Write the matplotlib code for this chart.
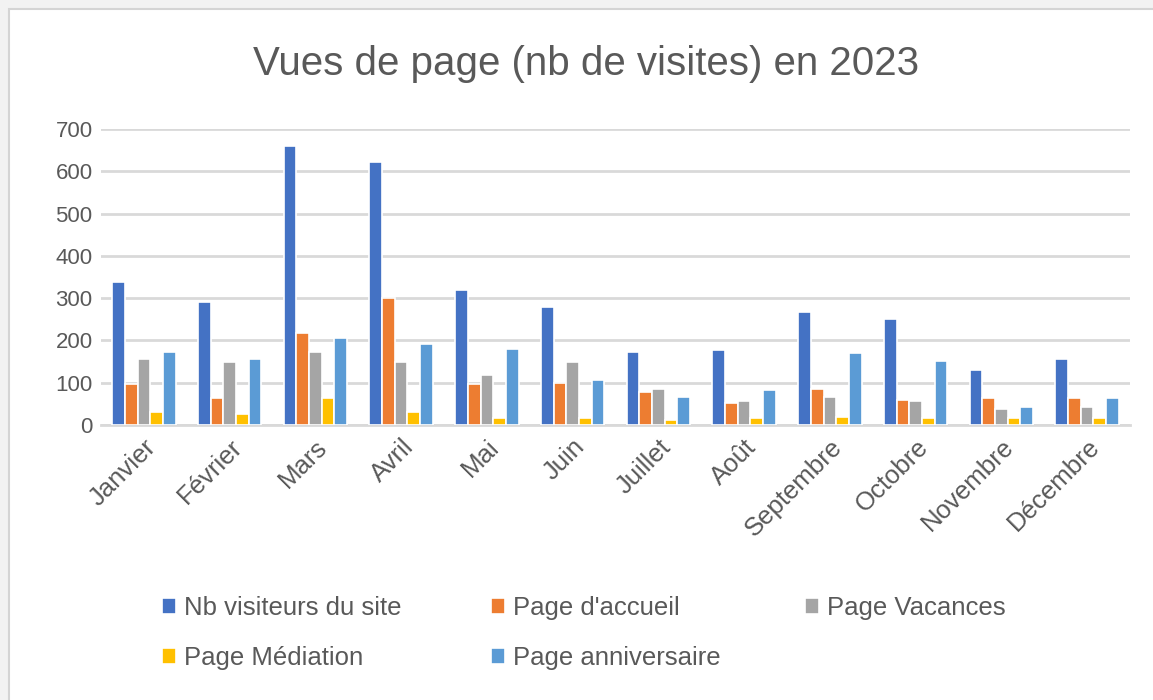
import matplotlib.pyplot as plt
from matplotlib.patches import Rectangle
import numpy as np

plt.rcParams['font.family'] = ['Liberation Sans', 'DejaVu Sans']

mois = ['Janvier', 'Février', 'Mars', 'Avril', 'Mai', 'Juin', 'Juillet',
        'Août', 'Septembre', 'Octobre', 'Novembre', 'Décembre']
visiteurs = [338, 290, 660, 623, 320, 279, 173, 177, 268, 250, 129, 155]
accueil = [97, 64, 218, 301, 97, 100, 78, 53, 86, 60, 64, 64]
vacances = [155, 148, 173, 148, 118, 148, 86, 57, 67, 57, 39, 42]
mediation = [31, 27, 64, 31, 17, 17, 13, 17, 20, 17, 17, 17]
anniversaire = [173, 155, 206, 192, 180, 107, 67, 82, 170, 152, 42, 64]

series = [
    ('Nb visiteurs du site', visiteurs, '#4472C4'),
    ("Page d'accueil", accueil, '#ED7D31'),
    ('Page Vacances', vacances, '#A5A5A5'),
    ('Page Médiation', mediation, '#FFC000'),
    ('Page anniversaire', anniversaire, '#5B9BD5'),
]

gris = '#595959'
fig = plt.figure(figsize=(11.53, 7.0), dpi=100, facecolor='#f2f2f2')
# cadre blanc du graphique
fig.patches.append(Rectangle((9 / 1153, -0.01), 1.02, 1 - 9 / 700 + 0.01,
                             transform=fig.transFigure, facecolor='white',
                             edgecolor='#d4d4d4', linewidth=1.5, zorder=-1))

ax = fig.add_axes([101 / 1153, 1 - 425 / 700, (1130 - 101) / 1153, (425 - 129) / 700])
ax.set_facecolor('white')

x = np.arange(len(mois))
w = 0.148
handles = []
for i, (nom, vals, col) in enumerate(series):
    b = ax.bar(x + (i - 2) * w, vals, width=w, color=col, edgecolor='white',
               linewidth=1.2, label=nom, zorder=3)
    handles.append(b)

ax.set_xlim(-0.5, len(mois) - 0.5)
ax.set_ylim(0, 700)
ax.set_yticks(range(0, 701, 100))
ax.yaxis.grid(True, color='#d9d9d9', linewidth=2, zorder=0)
ax.tick_params(axis='both', length=0, labelcolor=gris)
ax.tick_params(axis='y', pad=6, labelsize=16)
ax.set_xticks(x)
ax.set_xticklabels(mois, rotation=45, ha='right', rotation_mode='anchor')
ax.tick_params(axis='x', pad=7, labelsize=18.5)
for s in ['top', 'right', 'left']:
    ax.spines[s].set_visible(False)
ax.spines['bottom'].set_color('#d9d9d9')
ax.spines['bottom'].set_linewidth(2)

fig.text(0.508, 1 - 64 / 700, 'Vues de page (nb de visites) en 2023',
         ha='center', va='center', fontsize=29, color=gris)

# légende en trois colonnes comme dans Excel
colonnes = [(0, 3), (1, 4), (2,)]
xs = [152 / 1153, 481 / 1153, 795 / 1153]
for xc, idx in zip(xs, colonnes):
    leg = fig.legend([handles[k] for k in idx], [series[k][0] for k in idx],
                     loc='upper left', bbox_to_anchor=(xc, 1 - 586 / 700),
                     frameon=False, fontsize=18.5, handlelength=0.55,
                     handleheight=0.6, handletextpad=0.3, labelspacing=1.0,
                     borderaxespad=0, labelcolor=gris)

fig.savefig('out.png', dpi=100, facecolor=fig.get_facecolor())
